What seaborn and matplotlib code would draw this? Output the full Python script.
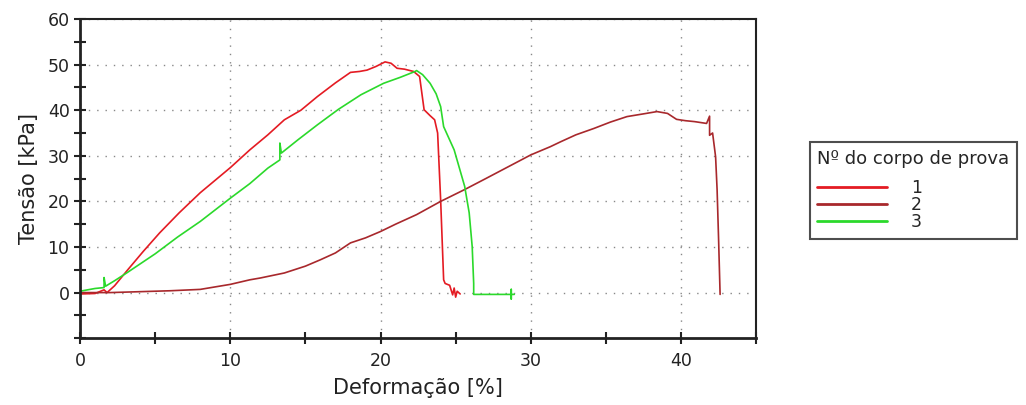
import pandas as pd
import matplotlib.pyplot as plt
import seaborn as sns
from matplotlib.ticker import FixedLocator

# corpo de prova 1 (vermelho)
x1 = [0, 1.0, 1.6, 1.8, 2.3, 3.1, 4.2, 5.3, 6.6, 8.0, 10.0, 11.3, 12.5, 13.6, 14.7,
      15.8, 17.0, 18.0, 18.6, 19.1, 19.7, 20.3, 20.7, 21.1, 21.6, 22.2, 22.6, 22.9,
      23.3, 23.6, 23.8, 24.0, 24.2, 24.3, 24.6, 24.8, 24.9, 25.0, 25.1, 25.3]
y1 = [-0.3, -0.2, 0.6, 0.0, 1.5, 4.7, 9.0, 13.1, 17.5, 21.9, 27.4, 31.3, 34.6, 37.9, 40.0,
      43.0, 46.0, 48.3, 48.5, 48.8, 49.6, 50.6, 50.3, 49.2, 49.0, 48.5, 47.4, 40.1,
      38.8, 37.9, 35.0, 20.4, 2.8, 2.0, 1.6, -0.5, 1.0, -1.0, 0.3, -0.3]

# corpo de prova 2 (vinho)
x2 = [0, 2, 4, 6, 8, 10, 11.3, 12, 13.6, 15, 16, 17, 18, 19, 20, 21, 22.4, 24, 25.6,
      27, 28.5, 30, 31.3, 32, 33, 34.2, 35.3, 36.4, 37.5, 38.4, 39.1, 39.7, 40.3,
      40.9, 41.7, 41.9, 41.9, 42.1, 42.3, 42.4, 42.5, 42.6]
y2 = [0, 0, 0.2, 0.4, 0.7, 1.8, 2.8, 3.2, 4.3, 5.8, 7.2, 8.7, 10.9, 12.0, 13.4, 15.0,
      17.1, 20.0, 22.6, 25.0, 27.6, 30.2, 32.0, 33.1, 34.6, 36.0, 37.4, 38.6, 39.2,
      39.7, 39.3, 38.0, 37.7, 37.5, 37.1, 38.7, 34.5, 35.0, 29.8, 22.6, 11.6, -0.4]

# corpo de prova 3 (verde)
x3 = [0, 1.0, 1.6, 1.6, 1.7, 2.3, 3.1, 5.0, 6.5, 8.0, 10.0, 11.3, 12.5, 13.3, 13.3,
      13.4, 14.5, 15.8, 17.2, 18.7, 20.2, 21.3, 22.3, 22.4, 22.8, 23.3, 23.7, 24.0,
      24.2, 24.9, 25.6, 25.9, 26.1, 26.2, 26.2, 27.5, 28.7, 28.7, 28.7, 28.7, 28.9]
y3 = [0.3, 0.9, 1.1, 3.3, 1.4, 2.6, 4.3, 8.5, 12.2, 15.6, 20.7, 23.9, 27.3, 29.1, 32.8,
      30.6, 33.5, 36.8, 40.2, 43.4, 45.9, 47.2, 48.5, 48.7, 47.8, 45.9, 43.6, 40.8,
      36.4, 31.3, 23.3, 17.5, 10.1, 2.0, -0.4, -0.4, -0.4, -1.4, 0.7, -0.4, -0.4]

specimens = ['1', '2', '3']
colors = ['#e41b23', '#a8282c', '#2bd92b']

df = pd.concat([
    pd.DataFrame({'x': x, 'y': y, 'cp': name})
    for x, y, name in zip([x1, x2, x3], [y1, y2, y3], specimens)
])

sns.set_style('white')
plt.rcParams['font.family'] = ['DejaVu Sans']

fig = plt.figure(figsize=(10.26, 4.05), dpi=100)
ax = fig.add_axes([0.078, 0.165, 0.659, 0.788])

sns.lineplot(data=df, x='x', y='y', hue='cp', palette=colors, sort=False,
             estimator=None, linewidth=1.2, ax=ax, legend=False)

ax.set_xlim(0, 45)
ax.set_ylim(-10, 60)
ax.xaxis.set_major_locator(FixedLocator([0, 10, 20, 30, 40]))
ax.xaxis.set_minor_locator(FixedLocator([5, 15, 25, 35, 45]))
ax.yaxis.set_major_locator(FixedLocator([0, 10, 20, 30, 40, 50, 60]))
ax.yaxis.set_minor_locator(FixedLocator([-10, -5, 5, 15, 25, 35, 45, 55]))
ax.tick_params(which='both', direction='inout', length=8, width=1.5,
               left=True, bottom=True, labelsize=12.5, colors='#222222')
ax.tick_params(axis='x', pad=6)
ax.grid(True, which='major', color='#888888', linestyle=(0, (1, 5)), linewidth=1)
for s in ax.spines.values():
    s.set_color('#222222')
    s.set_linewidth(1.5)
ax.spines['left'].set_linewidth(2)
ax.spines['bottom'].set_linewidth(2)

ax.set_xlabel('Deformação [%]', fontsize=15, color='#222222', labelpad=6)
ax.set_ylabel('Tensão [kPa]', fontsize=15, color='#222222', labelpad=6)

handles = [plt.Line2D([], [], color=c, linewidth=2) for c in colors]
leg = fig.legend(handles, specimens, title='Nº do corpo de prova',
                 loc='upper left', bbox_to_anchor=(0.789, 0.649),
                 bbox_transform=fig.transFigure, borderaxespad=0,
                 fancybox=False, edgecolor='#222222', fontsize=12.5,
                 title_fontsize=13, handlelength=4.0, handletextpad=1.4,
                 labelspacing=-0.05, borderpad=0.45)
leg.get_frame().set_linewidth(1.5)
leg._legend_box.align = 'left'
leg._legend_box.sep = 8

fig.savefig('out.png', dpi=100)
